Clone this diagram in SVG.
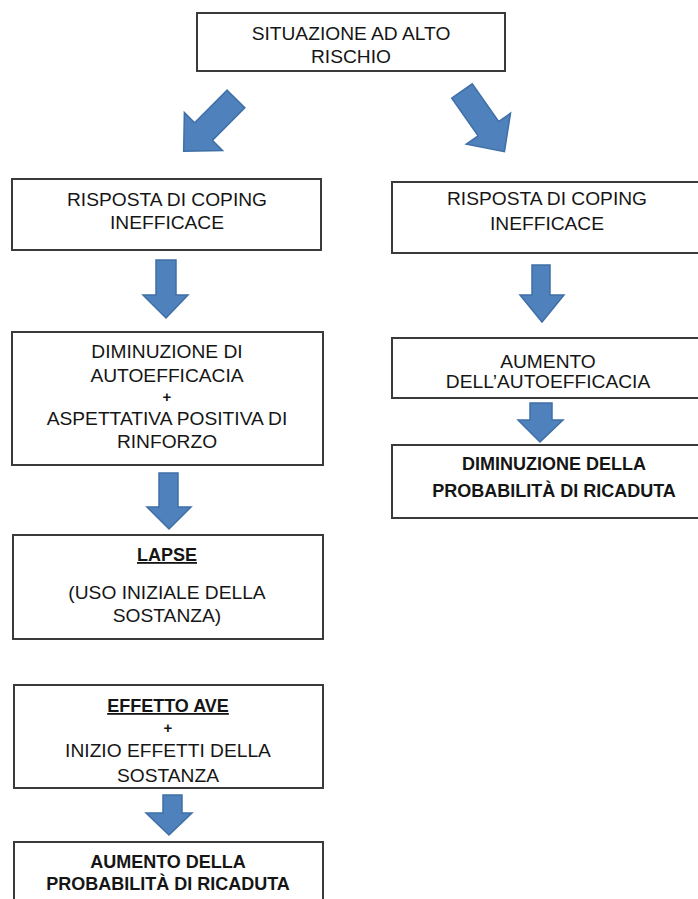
<svg xmlns="http://www.w3.org/2000/svg" width="698" height="899" viewBox="0 0 698 899">
<style>
.box{fill:#ffffff;stroke:#3a3a3a;stroke-width:2}
.t{font-family:"Liberation Sans",Arial,sans-serif;font-size:19.2px;fill:#151515;text-anchor:middle}
.b{font-family:"Liberation Sans",Arial,sans-serif;font-size:18px;font-weight:bold;fill:#151515;text-anchor:middle}
.u{text-decoration:underline}
.p{font-family:"Liberation Sans",Arial,sans-serif;font-size:15px;font-weight:bold;fill:#151515;text-anchor:middle}
.ar{fill:#4f81bd;stroke:#3f6fa6;stroke-width:1.5;stroke-linejoin:miter}
</style>
<defs>
<path id="diag" d="M-12.5,0 L12.5,0 L12.5,46 L27,46 L0,74 L-27,46 L-12.5,46 Z"/>
</defs>
<rect width="698" height="899" fill="#ffffff"/>
<g id="connectors">
<use href="#diag" class="ar" transform="translate(236,99) rotate(45)"/>
<use href="#diag" class="ar" transform="translate(462,91) rotate(-35)"/>
<polygon class="ar" points="156,260 176,260 176,295 188,295 166,318 143,295 156,295"/>
<polygon class="ar" points="159,473 178,473 178,507 191,507 169,529 147,507 159,507"/>
<polygon class="ar" points="163,795 182,795 182,813 192,813 169,835 146,813 163,813"/>
<polygon class="ar" points="532,265 550,265 550,295 564,295 542,322 520,295 532,295"/>
<polygon class="ar" points="530,403 552,403 552,420 563,420 540,442 518,420 530,420"/>
</g>
<g id="n-top">
<rect class="box" x="197" y="13" width="308" height="58"/>
<text class="t" x="351" y="40">SITUAZIONE AD ALTO</text>
<text class="t" x="351" y="63">RISCHIO</text>
</g>
<g id="n-left1">
<rect class="box" x="12" y="179" width="309" height="71"/>
<text class="t" x="167" y="206">RISPOSTA DI COPING</text>
<text class="t" x="167" y="229">INEFFICACE</text>
</g>
<g id="n-left2">
<rect class="box" x="12" y="332" width="311" height="133"/>
<text class="t" x="167" y="358">DIMINUZIONE DI</text>
<text class="t" x="167" y="382">AUTOEFFICACIA</text>
<text class="p" x="167" y="402">+</text>
<text class="t" x="167" y="425">ASPETTATIVA POSITIVA DI</text>
<text class="t" x="167" y="448">RINFORZO</text>
</g>
<g id="n-lapse">
<rect class="box" x="13" y="535" width="310" height="104"/>
<text class="b u" x="167" y="561">LAPSE</text>
<text class="t" x="167" y="599">(USO INIZIALE DELLA</text>
<text class="t" x="167" y="622">SOSTANZA)</text>
</g>
<g id="n-ave">
<rect class="box" x="14" y="685" width="309" height="103"/>
<text class="b u" x="168" y="712">EFFETTO AVE</text>
<text class="p" x="168" y="733">+</text>
<text class="t" x="168" y="757">INIZIO EFFETTI DELLA</text>
<text class="t" x="168" y="782">SOSTANZA</text>
</g>
<g id="n-left-final">
<rect class="box" x="14" y="842" width="309" height="70"/>
<text class="b" x="168" y="868">AUMENTO DELLA</text>
<text class="b" x="168" y="890">PROBABILITÀ DI RICADUTA</text>
</g>
<g id="n-right1">
<rect class="box" x="392" y="182" width="320" height="71"/>
<text class="t" x="547" y="205">RISPOSTA DI COPING</text>
<text class="t" x="547" y="230">INEFFICACE</text>
</g>
<g id="n-right2">
<rect class="box" x="392" y="338" width="320" height="60"/>
<text class="t" x="548" y="368">AUMENTO</text>
<text class="t" x="548" y="388">DELL’AUTOEFFICACIA</text>
</g>
<g id="n-right-final">
<rect class="box" x="392" y="445" width="320" height="73"/>
<text class="b" x="554" y="470">DIMINUZIONE DELLA</text>
<text class="b" x="554" y="497">PROBABILITÀ DI RICADUTA</text>
</g>
</svg>
